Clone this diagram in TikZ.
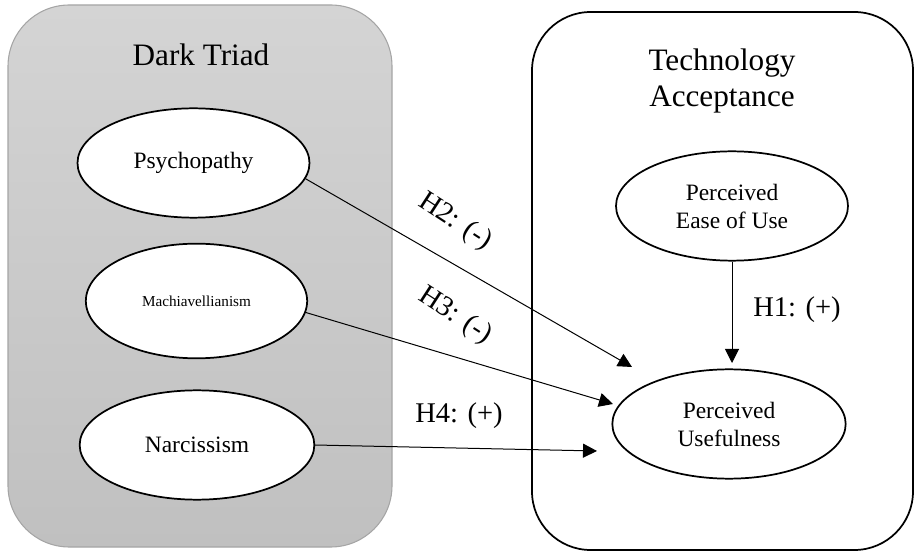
\documentclass[tikz,border=0pt]{standalone}
\usepackage{fontspec}
\setmainfont{Liberation Serif}
\usetikzlibrary{arrows.meta,shapes.geometric,positioning}
\definecolor{triadtop}{RGB}{212,212,212}
\definecolor{triadbot}{RGB}{192,192,192}
\definecolor{triadedge}{RGB}{165,165,165}

\begin{document}
\begin{tikzpicture}[x=0.75pt,y=-0.75pt,>={Triangle[length=10.5pt,width=10.5pt]},
  construct/.style={draw,ellipse,line width=1.3pt,fill=white,inner sep=0pt,align=center,
    minimum width=174pt,minimum height=82pt,font=\fontsize{17.6}{21}\selectfont},
  hyp/.style={inner sep=0pt,font=\fontsize{21.4}{25}\selectfont},
  grouptitle/.style={inner sep=0pt,align=center,font=\fontsize{23.4}{27}\selectfont},
  link/.style={->,line width=0.75pt}]
\useasboundingbox (0,0) rectangle (917,555);

\node[draw=triadedge,line width=0.8pt,rounded corners=46pt,top color=triadtop,bottom color=triadbot,
  minimum width=288pt,minimum height=406.5pt] (darkbox) at (200,276) {};
\node[draw,line width=1.3pt,rounded corners=44pt,minimum width=285.75pt,minimum height=403.5pt] (techbox) at (722.5,281) {};
\node[grouptitle] (darktitle) at (201,55) {Dark Triad};
\node[grouptitle] (techtitle) at (722,81) {Technology\\Acceptance};

\node[construct] (psy) at (193.5,163) {Psychopathy};
\node[construct,minimum width=166pt,minimum height=86pt,font=\fontsize{11.4}{14}\selectfont] (mach) at (196.5,301) {Machiavellianism};
\node[construct,minimum width=176pt] (narc) at (197,445) {Narcissism};
\node[construct] (peou) at (732,206) {Perceived\\Ease of Use};
\node[construct,minimum width=175pt] (pu) at (729,424) {Perceived\\Usefulness};

\coordinate (h1tip) at (732,363);
\coordinate (h2tip) at (632,367);
\coordinate (h3tip) at (613,404);
\coordinate (h4tip) at (597,451);

\draw[link] (peou.south) -- (h1tip);
\draw[link] (psy.-8) -- (h2tip);
\draw[link] (mach.-6) -- (h3tip);
\draw[link] (narc.east) -- (h4tip);

\node[hyp] (h1) at (797,310) {H1: (+)};
\node[hyp,rotate=-33] (h2) at (455,222) {H2: (-)};
\node[hyp,rotate=-33] (h3) at (455,316) {H3: (-)};
\node[hyp] (h4) at (459,416) {H4: (+)};
\end{tikzpicture}
\end{document}
